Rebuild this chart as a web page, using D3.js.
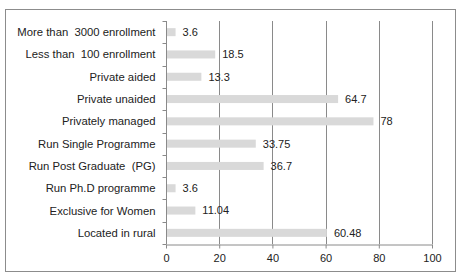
<!DOCTYPE html>
<html>
<head>
<meta charset="utf-8">
<script src="https://cdn.jsdelivr.net/npm/d3@7"></script>
<style>
  body { margin: 0; background: #fff; }
  svg { display: block; font-family: "Liberation Sans", Arial, sans-serif; }
</style>
</head>
<body>
<div id="chart"></div>
<script>
const categories = [
    "More than  3000 enrollment",
    "Less than  100 enrollment",
    "Private aided",
    "Private unaided",
    "Privately managed",
    "Run Single Programme",
    "Run Post Graduate  (PG)",
    "Run Ph.D programme",
    "Exclusive for Women",
    "Located in rural"
];
const values = [3.6, 18.5, 13.3, 64.7, 78, 33.75, 36.7, 3.6, 11.04, 60.48];
const valueLabels = ["3.6", "18.5", "13.3", "64.7", "78", "33.75", "36.7", "3.6", "11.04", "60.48"];
const xTicks = [0, 20, 40, 60, 80, 100];

const width = 463;
const height = 276;
const marginTop = 21;
const marginBottom = 32;
const marginLeft = 166;
const marginRight = 31;

const data = categories.map((c, i) => ({ name: c, value: values[i], label: valueLabels[i] }));

const svg = d3.select("#chart").append("svg")
    .attr("width", width)
    .attr("height", height);

// outer frame
svg.append("rect")
    .attr("x", 5.5)
    .attr("y", 9.5)
    .attr("width", 450)
    .attr("height", 262)
    .attr("fill", "#fff")
    .attr("stroke", "#8c8c8c");

const x = d3.scaleLinear()
    .domain([0, 100])
    .range([marginLeft, width - marginRight]);

const y = d3.scaleBand()
    .domain(categories)
    .range([marginTop, height - marginBottom])
    .paddingInner(0.64)
    .paddingOuter(0.32);

const yb = d3.scaleBand()
    .domain(categories)
    .range([marginTop, height - marginBottom]);

// vertical gridlines
svg.append("g")
    .attr("stroke", "#8a8a8a")
    .selectAll("line")
    .data(xTicks.slice(1))
    .join("line")
    .attr("x1", d => Math.round(x(d)) + 0.5)
    .attr("x2", d => Math.round(x(d)) + 0.5)
    .attr("y1", marginTop)
    .attr("y2", height - marginBottom);

// bars
svg.append("g")
    .attr("fill", "#d9d9d9")
    .selectAll("rect")
    .data(data)
    .join("rect")
    .attr("x", x(0))
    .attr("y", d => y(d.name))
    .attr("width", d => x(d.value) - x(0))
    .attr("height", y.bandwidth());

// value labels
svg.append("g")
    .attr("font-size", 11)
    .attr("fill", "#222")
    .selectAll("text")
    .data(data)
    .join("text")
    .attr("x", d => x(d.value) + 7)
    .attr("y", d => y(d.name) + y.bandwidth() / 2)
    .attr("dy", "0.35em")
    .text(d => d.label);

// left axis with ticks at band boundaries
const leftAxis = svg.append("g")
    .attr("transform", `translate(${Math.round(x(0)) + 0.5},0)`);
leftAxis.append("line")
    .attr("y1", marginTop)
    .attr("y2", height - marginBottom)
    .attr("stroke", "#8a8a8a");
leftAxis.selectAll(".tk")
    .data(categories.concat([null]))
    .join("line")
    .attr("class", "tk")
    .attr("x1", -4)
    .attr("x2", 0)
    .attr("y1", (d, i) => Math.round(marginTop + i * yb.step()) + 0.5)
    .attr("y2", (d, i) => Math.round(marginTop + i * yb.step()) + 0.5)
    .attr("stroke", "#8a8a8a");
leftAxis.selectAll("text")
    .data(categories)
    .join("text")
    .attr("x", -11)
    .attr("y", d => yb(d) + yb.bandwidth() / 2)
    .attr("dy", "0.35em")
    .attr("text-anchor", "end")
    .attr("font-size", 11.3)
    .attr("fill", "#222")
    .attr("xml:space", "preserve")
    .text(d => d);

// bottom axis
svg.append("g")
    .attr("transform", `translate(0,${height - marginBottom + 0.5})`)
    .call(d3.axisBottom(x).tickValues(xTicks).tickSize(4).tickSizeOuter(0).tickPadding(6))
    .call(g => g.select(".domain").attr("stroke", "#8a8a8a"))
    .call(g => g.selectAll(".tick line").attr("stroke", "#8a8a8a"))
    .call(g => g.selectAll(".tick text")
        .attr("font-family", "Liberation Sans, Arial, sans-serif")
        .attr("font-size", 11)
        .attr("fill", "#222"));
</script>
</body>
</html>
